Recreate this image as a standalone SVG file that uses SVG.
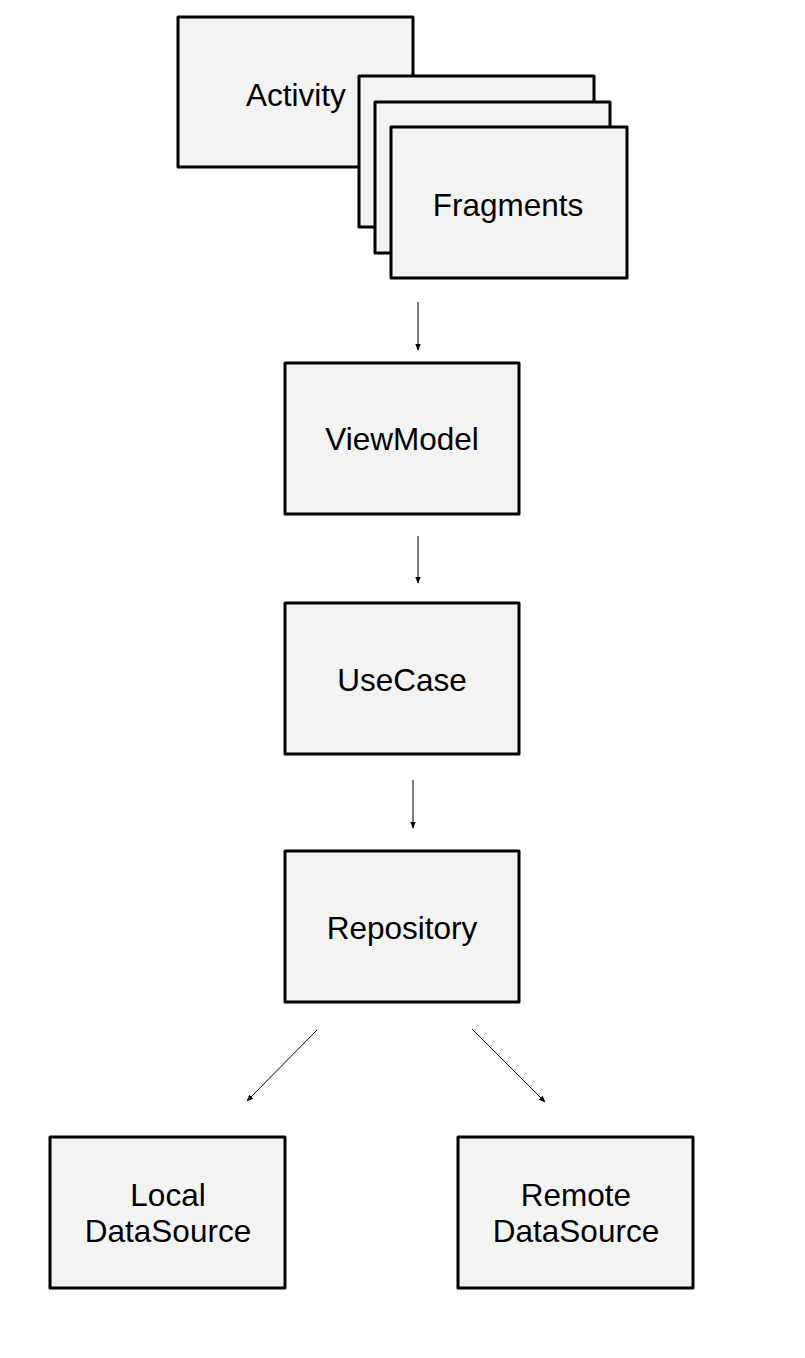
<svg xmlns="http://www.w3.org/2000/svg" width="805" height="1358" viewBox="0 0 805 1358">
<style>
.box{fill:#f3f3f3;stroke:#000;stroke-width:3;stroke-linejoin:round}
.t{font-family:"Liberation Sans",Arial,sans-serif;font-size:31.5px;fill:#000;text-anchor:middle}
.c{stroke:#000;stroke-width:1;fill:none;marker-end:url(#ah)}
</style>
<defs>
<marker id="ah" viewBox="0 0 10 10" refX="9" refY="5" markerWidth="7" markerHeight="7" markerUnits="userSpaceOnUse" orient="auto">
<path d="M0,1 L10,5 L0,9 z" fill="#000"/>
</marker>
</defs>
<rect width="805" height="1358" fill="#fff"/>
<g id="activity">
<rect class="box" x="178" y="17" width="235" height="150"/>
<text class="t" x="296" y="106">Activity</text>
</g>
<g id="fragments">
<rect class="box" x="359" y="76" width="235" height="151"/>
<rect class="box" x="375" y="102" width="235" height="151"/>
<rect class="box" x="391" y="127" width="236" height="151"/>
<text class="t" x="508" y="216">Fragments</text>
</g>
<g id="viewmodel">
<rect class="box" x="285" y="363" width="234" height="151"/>
<text class="t" x="402" y="450">ViewModel</text>
</g>
<g id="usecase">
<rect class="box" x="285" y="603" width="234" height="151"/>
<text class="t" x="402" y="691">UseCase</text>
</g>
<g id="repository">
<rect class="box" x="285" y="851" width="234" height="151"/>
<text class="t" x="402" y="939">Repository</text>
</g>
<g id="local">
<rect class="box" x="50" y="1137" width="235" height="151"/>
<text class="t" x="168" y="1206">Local</text>
<text class="t" x="168" y="1242">DataSource</text>
</g>
<g id="remote">
<rect class="box" x="458" y="1137" width="235" height="151"/>
<text class="t" x="576" y="1206">Remote</text>
<text class="t" x="576" y="1242">DataSource</text>
</g>
<g id="connectors">
<line class="c" x1="418" y1="302" x2="418" y2="350"/>
<line class="c" x1="418" y1="536" x2="418" y2="583"/>
<line class="c" x1="413" y1="780" x2="413" y2="828"/>
<line class="c" x1="317" y1="1030" x2="247" y2="1101"/>
<line class="c" x1="472" y1="1029" x2="545" y2="1102"/>
</g>
</svg>
